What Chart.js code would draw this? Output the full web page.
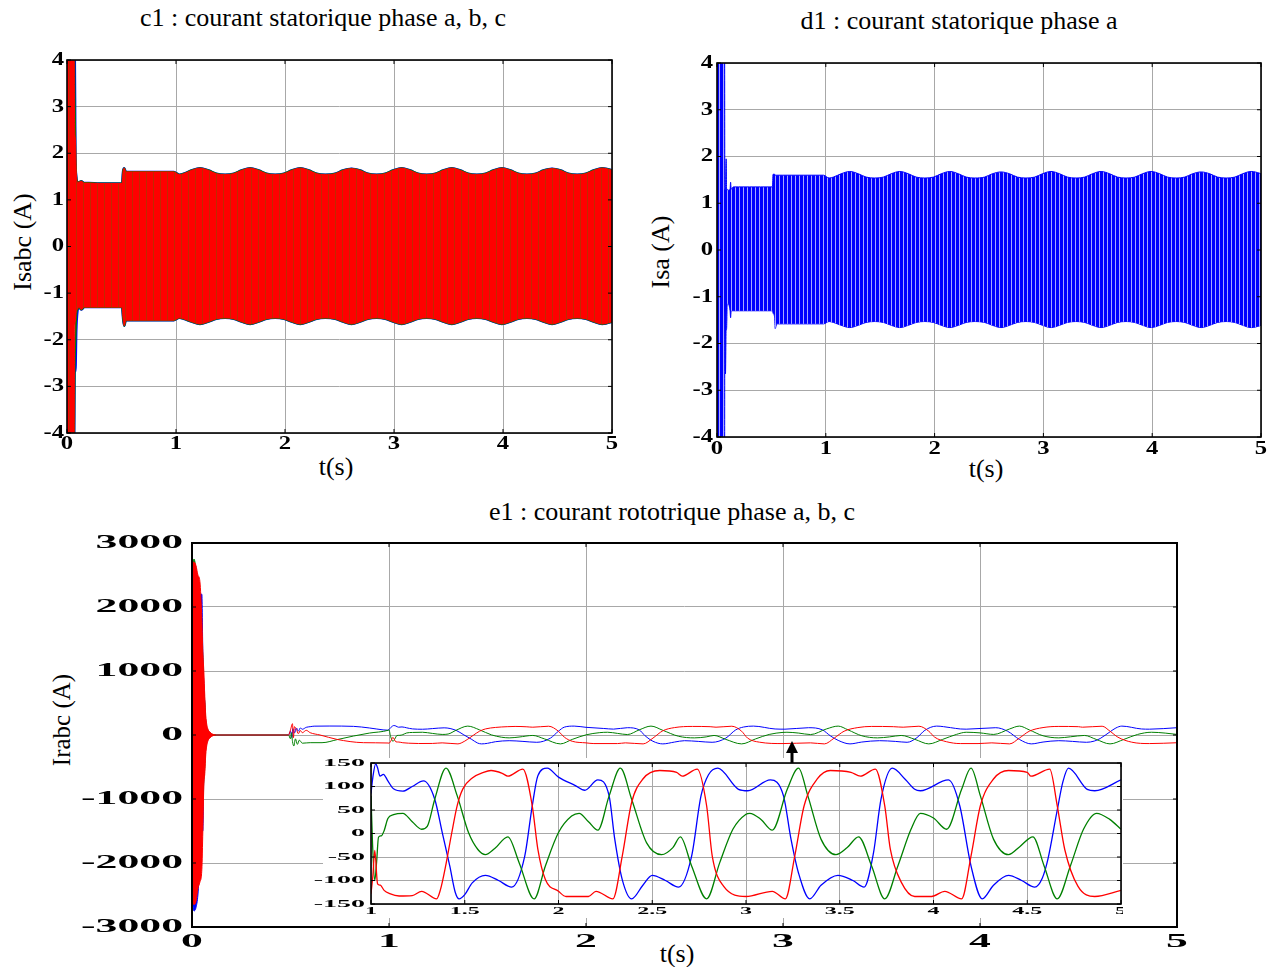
<!DOCTYPE html>
<html><head><meta charset="utf-8">
<script src="https://cdn.jsdelivr.net/npm/chart.js@4.4.0/dist/chart.umd.min.js"></script>
<style>
body{margin:0;background:#fff;width:1283px;height:967px;overflow:hidden;position:relative;font-family:"Liberation Serif","Times New Roman",serif;}
canvas{position:absolute;}
.t{position:absolute;font-size:26px;color:#000;white-space:nowrap;transform:translate(-50%,-50%);line-height:1;}
.r{transform:translate(-50%,-50%) rotate(-90deg);}
</style></head><body>
<div class="t" style="left:323px;top:18px">c1 : courant statorique phase a, b, c</div>
<div class="t" style="left:959px;top:21px">d1 : courant statorique phase a</div>
<div class="t" style="left:672px;top:512px">e1 : courant rototrique phase a, b, c</div>
<div class="t r" style="left:23px;top:242px">Isabc (A)</div>
<div class="t r" style="left:661px;top:252px">Isa (A)</div>
<div class="t r" style="left:61px;top:720px;font-size:25px">Irabc (A)</div>
<div class="t" style="left:336px;top:467px">t(s)</div>
<div class="t" style="left:986px;top:469px">t(s)</div>
<div class="t" style="left:677px;top:954px">t(s)</div>
<canvas id="c1" width="640" height="480" style="left:0;top:0;width:640px;height:480px"></canvas>
<canvas id="d1" width="643" height="480" style="left:640px;top:0;width:643px;height:480px"></canvas>
<canvas id="e1" width="1283" height="487" style="left:0;top:480px;width:1283px;height:487px"></canvas>
<canvas id="ins" width="813" height="182" style="left:310px;top:738px;width:813px;height:182px"></canvas>
<script>
// ---------- tick labels ----------
const statorXTicks = [0, 1, 2, 3, 4, 5];
const statorYTicks = [-4, -3, -2, -1, 0, 1, 2, 3, 4];
const rotorXTicks = [0, 1, 2, 3, 4, 5];
const rotorYTicks = [-3000, -2000, -1000, 0, 1000, 2000, 3000];
const insetXTicks = [1, 1.5, 2, 2.5, 3, 3.5, 4, 4.5, 5];
const insetXLabels = ['1', '1.5', '2', '2.5', '3', '3.5', '4', '4.5', '5'];
const insetYTicks = [-150, -100, -50, 0, 50, 100, 150];

// ---------- stator current envelopes (steady part) ----------
const statorEnvT = [1.07,1.14,1.22,1.30,1.37,1.45, 1.53,1.60,1.68,1.76,1.83,1.91, 1.99,2.06,2.14,2.22,2.29,2.37,
  2.46,2.53,2.61,2.69,2.76,2.84, 2.92,2.99,3.07,3.15,3.22,3.30, 3.38,3.45,3.53,3.61,3.68,3.76,
  3.84,3.91,3.99,4.07,4.14,4.22, 4.30,4.37,4.45,4.53,4.60,4.68, 4.76,4.83,4.91,4.99,5.0];
const statorEnvUp = [1.56,1.63,1.68,1.63,1.56,1.54, 1.56,1.63,1.68,1.63,1.56,1.54, 1.56,1.63,1.68,1.63,1.56,1.54,
  1.56,1.63,1.67,1.63,1.56,1.54, 1.56,1.63,1.68,1.63,1.56,1.54, 1.56,1.63,1.68,1.63,1.56,1.54,
  1.56,1.63,1.68,1.63,1.56,1.54, 1.56,1.63,1.67,1.63,1.56,1.54, 1.56,1.63,1.68,1.64,1.63];
const statorEnvLo = [-1.55,-1.61,-1.66,-1.61,-1.55,-1.53, -1.55,-1.61,-1.66,-1.61,-1.55,-1.53, -1.55,-1.61,-1.66,-1.61,-1.55,-1.53,
  -1.55,-1.61,-1.66,-1.61,-1.55,-1.53, -1.55,-1.61,-1.66,-1.61,-1.55,-1.53, -1.55,-1.61,-1.66,-1.61,-1.55,-1.53,
  -1.55,-1.61,-1.66,-1.61,-1.55,-1.53, -1.55,-1.61,-1.66,-1.61,-1.55,-1.53, -1.55,-1.61,-1.66,-1.62,-1.61];

// c1 start-up part (0 .. 1.03 s)
const c1StartT = [0, 0.064, 0.07, 0.077, 0.085, 0.095, 0.11, 0.13, 0.16, 0.2, 0.3, 0.4, 0.505, 0.515, 0.525, 0.54, 0.6, 0.8, 0.98, 1.03];
const c1RedUp   = [4.5, 4.5, 2.6, 2.3, 1.6, 1.38, 1.38, 1.4, 1.36, 1.36, 1.35, 1.35, 1.35, 1.62, 1.68, 1.6, 1.6, 1.6, 1.6, 1.54];
const c1RedLo   = [-4.5, -4.5, -2.0, -1.6, -1.4, -1.35, -1.3, -1.35, -1.3, -1.3, -1.3, -1.3, -1.3, -1.55, -1.7, -1.58, -1.58, -1.58, -1.58, -1.53];
const c1GreenUp = [4.5, 4.5, 3.2, 2.0, 1.5, 1.38, 1.38, 1.4, 1.36, 1.36, 1.35, 1.35, 1.35, 1.62, 1.68, 1.6, 1.6, 1.6, 1.6, 1.54];
const c1GreenLo = [-4.5, -4.5, -2.6, -2.0, -1.45, -1.35, -1.3, -1.35, -1.3, -1.3, -1.3, -1.3, -1.3, -1.55, -1.7, -1.58, -1.58, -1.58, -1.58, -1.53];
const c1BlueUp  = [4.5, 4.5, 4.5, 1.97, 1.5, 1.38, 1.38, 1.4, 1.36, 1.36, 1.35, 1.35, 1.35, 1.62, 1.68, 1.6, 1.6, 1.6, 1.6, 1.54];
const c1BlueLo  = [-4.5, -4.5, -2.68, -2.68, -1.8, -1.4, -1.3, -1.35, -1.3, -1.3, -1.3, -1.3, -1.3, -1.55, -1.7, -1.58, -1.58, -1.58, -1.58, -1.53];

// d1 start-up part (0 .. 1.03 s)
const d1StartT = [0, 0.07, 0.072, 0.078, 0.084, 0.088, 0.094, 0.1, 0.12, 0.125, 0.13, 0.15, 0.2, 0.3, 0.4, 0.51, 0.515, 0.53, 0.535, 0.55, 0.6, 0.8, 0.98, 1.03];
const d1Up = [4.5, 4.5, 1.3, 1.3, 1.95, 1.3, 1.3, 1.28, 1.3, 1.45, 1.3, 1.35, 1.35, 1.35, 1.35, 1.35, 1.62, 1.62, 1.6, 1.6, 1.6, 1.6, 1.6, 1.54];
const d1Lo = [-4.5, -4.5, -1.3, -2.65, -1.7, -1.7, -1.15, -1.15, -1.3, -1.45, -1.3, -1.3, -1.3, -1.3, -1.3, -1.3, -1.35, -1.45, -1.68, -1.58, -1.58, -1.58, -1.58, -1.53];

// ---------- rotor currents ----------
// start-up transient envelopes (0 .. 0.12 s)
const rotTrT = [0, 0.01, 0.02, 0.03, 0.04, 0.05, 0.055, 0.06, 0.065, 0.07, 0.08, 0.09, 0.1, 0.12];
const rotTrRedUp   = [2700, 2700, 2650, 2500, 2400, 1800, 1300, 1000, 600, 300, 100, 50, 20, 0];
const rotTrRedLo   = [-2600, -2650, -2600, -2400, -2300, -2100, -1500, -800, -600, -300, -100, -50, -20, 0];
const rotTrGreenUp = [2500, 2750, 2600, 2300, 2100, 1500, 1200, 700, 500, 200, 80, 40, 10, 0];
const rotTrGreenLo = [-2400, -2500, -2500, -2300, -2000, -1500, -1000, -700, -500, -150, -60, -30, -10, 0];
const rotTrBlueUp  = [2000, 2200, 2300, 2200, 2200, 2200, 1300, 800, 500, 200, 80, 40, 10, 0];
const rotTrBlueLo  = [-2500, -2750, -2700, -2500, -2000, -1500, -1500, -600, -400, -200, -80, -40, -10, 0];

// 0.12 .. 1 s
const rotPreBlueT = [0.12, 0.49, 0.5, 0.507, 0.512, 0.52, 0.53, 0.54, 0.55, 0.56, 0.58, 0.6, 0.62, 0.7, 0.82, 0.9, 0.97, 0.995];
const rotPreBlue  = [0, 0, 60, -40, 100, 30, 110, 60, 110, 90, 120, 130, 138, 140, 135, 110, 80, 75];
const rotPreRedT  = [0.12, 0.49, 0.5, 0.51, 0.515, 0.52, 0.53, 0.54, 0.55, 0.56, 0.58, 0.6, 0.65, 0.735, 0.87, 0.995];
const rotPreRed   = [0, 0, 80, 177, -42, 130, 88, 20, 70, 36, 73, 36, 0, -68, -120, -125];
const rotPreGreenT = [0.12, 0.49, 0.5, 0.505, 0.51, 0.517, 0.525, 0.535, 0.545, 0.56, 0.6, 0.66, 0.74, 0.82, 0.9, 0.995];
const rotPreGreen  = [0, 0, -60, 36, -100, -172, -60, -146, -80, -128, -120, -120, -70, -16, 30, 73];

// 1 .. 5 s (zoomed inset)
const rotBlueT = [1.0,1.01,1.025,1.035,1.048,1.066,1.09,1.12,1.17,1.22, 1.28,1.34,1.38,1.42,1.45,1.47,1.50,1.54,1.61,1.68,
  1.75,1.82,1.86,1.89,1.94,2.00,2.09,2.14,2.21,2.27, 2.30,2.34,2.39,2.45,2.50,2.57,2.64,2.71,2.76,2.80,
  2.85,2.96,3.01,3.13,3.20,3.24,3.28,3.34,3.40,3.49, 3.57,3.63,3.68,3.72,3.78,3.85,3.90,3.93,4.08,4.14,
  4.20,4.26,4.32,4.40,4.47,4.54,4.58,4.61,4.66,4.69, 4.72,4.82,4.86,5.0];
const rotBlue = [85,120,148,140,122,126,112,95,90,100, 112,73,2,-69,-126,-139,-130,-105,-89,-100,
  -114,-48,59,123,139,120,102,92,114,80, -12,-98,-139,-110,-89,-100,-114,-48,80,125,
  139,94,91,114,80,-12,-84,-139,-110,-89, -100,-114,-41,73,139,115,94,91,114,59,
  -69,-139,-110,-89,-100,-114,-95,-55,50,110, 139,94,91,114];
const rotRedT = [1.0,1.01,1.02,1.035,1.05,1.07,1.10,1.15,1.22,1.27, 1.35,1.37,1.40,1.43,1.46,1.49,1.54,1.60,1.64,1.70,
  1.73,1.81,1.86,1.89,1.93,2.00,2.04,2.16,2.20,2.29, 2.34,2.39,2.45,2.54,2.63,2.66,2.74,2.79,2.82,2.88,
  3.00,3.14,3.21,3.26,3.31,3.38,3.45,3.56,3.61,3.69, 3.74,3.77,3.83,3.90,3.99,4.06,4.15,4.20,4.25,4.32,
  4.40,4.50,4.52,4.62,4.66,4.70,4.77,4.86,5.0];
const rotRed = [-128,-90,-36,-107,-110,-121,-128,-133,-132,-123, -139,-120,-65,0,60,95,118,130,134,128,
  122,137,59,-34,-98,-123,-134,-134,-123,-139, -48,66,116,134,130,122,137,59,-48,-112,
  -134,-123,-139,-48,59,116,134,130,122,137, 59,-34,-105,-134,-134,-123,-139,-48,59,116,
  134,130,122,137,59,-34,-112,-134,-121];
const rotGreenT = [1.0,1.008,1.02,1.03,1.04,1.055,1.07,1.09,1.12,1.17, 1.22,1.27,1.30,1.34,1.40,1.46,1.52,1.57,1.61,1.66,
  1.73,1.79,1.87,1.93,2.00,2.07,2.11,2.16,2.21,2.27, 2.33,2.39,2.47,2.55,2.61,2.65,2.71,2.79,2.86,2.93,
  3.00,3.02,3.08,3.14,3.22,3.28,3.33,3.40,3.48,3.54, 3.60,3.67,3.74,3.81,3.88,3.93,4.00,4.07,4.15,4.20,
  4.25,4.32,4.40,4.46,4.53,4.59,4.66,4.73,4.80,4.87, 4.94,5.0];
const rotGreen = [80,-20,-100,-60,-8,-5,6,32,40,43, 25,9,15,73,139,80,2,-34,-45,-32,
  -7,-62,-139,-69,2,37,43,25,7,80, 139,73,-20,-45,-30,-7,-69,-139,-62,9,
  41,43,30,7,94,139,80,-12,-45,-30, -7,-69,-139,-69,9,43,33,9,94,139,
  80,-12,-45,-28,-7,-69,-139,-69,9,43, 30,9];

// ---------- styling ----------
const BLUE = '#0000ff', GREEN = '#008000', RED = '#ff0000', GRID = '#a8a8a8';

function stripePattern(base, stripe, w) {
  const c = document.createElement('canvas');
  c.width = w; c.height = 1;
  const g = c.getContext('2d');
  g.fillStyle = base; g.fillRect(0, 0, w, 1);
  g.fillStyle = stripe; g.fillRect(w - 1, 0, 1, 1);
  return g.createPattern(c, 'repeat');
}

function pts(tArr, vArr) { return tArr.map((t, i) => ({x: t, y: vArr[i]})); }

function ds(data, color, width, order, fill, bg) {
  return {data, borderColor: color, backgroundColor: bg || color, borderWidth: width, pointRadius: 0,
    fill: fill || false, order, cubicInterpolationMode: 'monotone'};
}

function axis(min, max, ticksArr, size, isX) {
  return {
    type: 'linear', min, max,
    afterBuildTicks: s => { s.ticks = ticksArr.map(v => ({value: v})); },
    afterFit: s => {
      if (isX) s.height = size; else s.width = size;
      s.paddingLeft = 0; s.paddingRight = 0; s.paddingTop = 0; s.paddingBottom = 0;
    },
    grid: {color: GRID, lineWidth: 1, drawTicks: false},
    border: {display: false},
    ticks: {display: false}
  };
}

const framePlugin = {
  id: 'frame',
  afterDatasetsDraw(chart, args, o) {
    const {ctx, chartArea: a, scales: {x, y}} = chart;
    ctx.save();
    ctx.strokeStyle = '#000';
    ctx.lineWidth = 1;
    const tl = o.tickLen;
    ctx.beginPath();
    x.ticks.forEach(t => {
      const p = x.getPixelForValue(t.value);
      ctx.moveTo(p, a.bottom); ctx.lineTo(p, a.bottom - tl);
      ctx.moveTo(p, a.top); ctx.lineTo(p, a.top + tl);
    });
    y.ticks.forEach(t => {
      const p = y.getPixelForValue(t.value);
      ctx.moveTo(a.left, p); ctx.lineTo(a.left + tl, p);
      ctx.moveTo(a.right, p); ctx.lineTo(a.right - tl, p);
    });
    ctx.stroke();
    ctx.lineWidth = o.lw;
    ctx.strokeRect(a.left, a.top, a.right - a.left, a.bottom - a.top);
    ctx.restore();
  }
};

function tickText(spec) {
  return {
    id: 'tickText',
    afterDraw(chart) {
      const {ctx, chartArea: a, scales: {x, y}} = chart;
      ctx.save();
      ctx.fillStyle = '#000';
      ctx.font = spec.font;
      ctx.textBaseline = 'middle';
      spec.yVals.forEach((v, i) => {
        ctx.save();
        ctx.translate(a.left - spec.yGap, y.getPixelForValue(v));
        ctx.scale(spec.sxY, 1);
        ctx.textAlign = 'right';
        ctx.fillText(spec.yLabels[i], 0, 0);
        ctx.restore();
      });
      spec.xVals.forEach((v, i) => {
        ctx.save();
        ctx.translate(x.getPixelForValue(v), a.bottom + spec.xGap);
        ctx.scale(spec.sxX, 1);
        ctx.textAlign = 'center';
        ctx.fillText(spec.xLabels[i], 0, 0);
        ctx.restore();
      });
      ctx.restore();
    }
  };
}

function baseOptions(pad, xAxis, yAxis, lw) {
  return {
    responsive: false, animation: false, events: [],
    layout: {padding: pad},
    plugins: {legend: {display: false}, tooltip: {enabled: false}, title: {display: false},
      frame: {lw: lw, tickLen: 4}},
    scales: {x: xAxis, y: yAxis}
  };
}

// ---------- c1 ----------
const c1T = c1StartT.concat(statorEnvT);
new Chart(document.getElementById('c1'), {
  type: 'line',
  data: {datasets: [
    ds(pts(c1T, c1RedUp.concat(statorEnvUp)), RED, 1, 0, '+1', stripePattern(RED, '#c02a00', 7)),
    ds(pts(c1T, c1RedLo.concat(statorEnvLo)), RED, 1, 0),
    ds(pts(c1T, c1GreenUp.concat(statorEnvUp)), GREEN, 2, 1),
    ds(pts(c1T, c1GreenLo.concat(statorEnvLo)), GREEN, 2, 1),
    ds(pts(c1T, c1BlueUp.concat(statorEnvUp)), BLUE, 2.5, 2),
    ds(pts(c1T, c1BlueLo.concat(statorEnvLo)), BLUE, 2.5, 2)
  ]},
  options: baseOptions({left: 0, top: 60, right: 28, bottom: 0},
    axis(0, 5, statorXTicks, 47, true), axis(-4, 4, statorYTicks, 67, false), 1.6),
  plugins: [framePlugin, tickText({font: 'bold 19px "Liberation Serif"', sxY: 1.3, sxX: 1.3, yGap: 3, xGap: 11,
    yVals: statorYTicks, yLabels: statorYTicks.map(String), xVals: statorXTicks, xLabels: statorXTicks.map(String)})]
});

// ---------- d1 ----------
const d1T = d1StartT.concat(statorEnvT);
new Chart(document.getElementById('d1'), {
  type: 'line',
  data: {datasets: [
    ds(pts(d1T, d1Up.concat(statorEnvUp)), BLUE, 1, 0, '+1', stripePattern(BLUE, '#a8a8ff', 4)),
    ds(pts(d1T, d1Lo.concat(statorEnvLo)), BLUE, 1, 0)
  ]},
  options: baseOptions({left: 0, top: 63, right: 22, bottom: 0},
    axis(0, 5, statorXTicks, 43, true), axis(-4, 4, statorYTicks, 77, false), 1.6),
  plugins: [framePlugin, tickText({font: 'bold 19px "Liberation Serif"', sxY: 1.3, sxX: 1.3, yGap: 4, xGap: 12,
    yVals: statorYTicks, yLabels: statorYTicks.map(String), xVals: statorXTicks, xLabels: statorXTicks.map(String)})]
});

// ---------- e1 ----------
new Chart(document.getElementById('e1'), {
  type: 'line',
  data: {datasets: [
    ds(pts(rotTrT, rotTrRedUp), RED, 1, 0, '+1'),
    ds(pts(rotTrT, rotTrRedLo), RED, 1, 0),
    ds(pts(rotTrT, rotTrGreenUp), GREEN, 1, 1, '+1'),
    ds(pts(rotTrT, rotTrGreenLo), GREEN, 1, 1),
    ds(pts(rotTrT, rotTrBlueUp), BLUE, 1, 2, '+1'),
    ds(pts(rotTrT, rotTrBlueLo), BLUE, 1, 2),
    ds(pts(rotPreRedT.concat(rotRedT), rotPreRed.concat(rotRed)), RED, 1, 0),
    ds(pts(rotPreGreenT.concat(rotGreenT), rotPreGreen.concat(rotGreen)), GREEN, 1, 1),
    ds(pts(rotPreBlueT.concat(rotBlueT), rotPreBlue.concat(rotBlue)), BLUE, 1, 2)
  ]},
  options: baseOptions({left: 0, top: 63, right: 106, bottom: 0},
    axis(0, 5, rotorXTicks, 40, true), axis(-3000, 3000, rotorYTicks, 192, false), 2),
  plugins: [framePlugin, tickText({font: 'bold 19px "Liberation Serif"', sxY: 2.3, sxX: 2.3, yGap: 9, xGap: 15,
    yVals: rotorYTicks, yLabels: rotorYTicks.map(String), xVals: rotorXTicks, xLabels: rotorXTicks.map(String)})]
});

// ---------- inset ----------
const insetBox = {
  id: 'insetBox',
  beforeDraw(chart) {
    const {ctx, chartArea: a} = chart;
    ctx.save();
    ctx.fillStyle = '#fff';
    ctx.fillRect(a.left - 48, a.top - 5, a.right - a.left + 50, a.bottom - a.top + 19);
    ctx.restore();
  },
  afterDraw(chart) {
    const {ctx, chartArea: a} = chart;
    const ax = a.left + 421;
    ctx.save();
    ctx.fillStyle = '#000';
    ctx.beginPath();
    ctx.moveTo(ax, 3); ctx.lineTo(ax + 6, 15); ctx.lineTo(ax - 6, 15); ctx.closePath(); ctx.fill();
    ctx.fillRect(ax - 1.5, 14, 3, a.top - 14);
    ctx.restore();
  }
};
new Chart(document.getElementById('ins'), {
  type: 'line',
  data: {datasets: [
    ds(pts(rotRedT, rotRed), RED, 1.3, 0),
    ds(pts(rotGreenT, rotGreen), GREEN, 1.3, 1),
    ds(pts(rotBlueT, rotBlue), BLUE, 1.3, 2)
  ]},
  options: baseOptions({left: 0, top: 25, right: 2, bottom: 0},
    axis(1, 5, insetXTicks, 16, true), axis(-150, 150, insetYTicks, 61, false), 1.6),
  plugins: [insetBox, framePlugin, tickText({font: 'bold 10px "Liberation Serif"', sxY: 2.8, sxX: 2.4, yGap: 6, xGap: 7,
    yVals: insetYTicks, yLabels: insetYTicks.map(String), xVals: insetXTicks, xLabels: insetXLabels})]
});
</script>
</body></html>
